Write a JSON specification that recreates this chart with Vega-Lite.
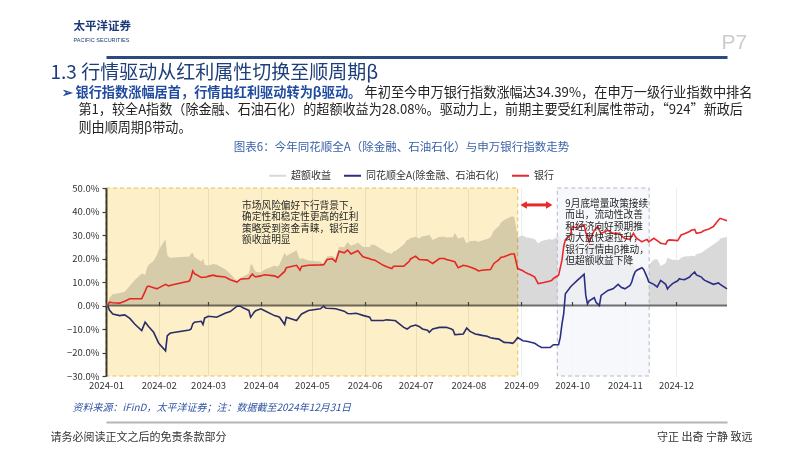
{
  "$schema": "https://vega.github.io/schema/vega-lite/v6.json",
  "width": 621,
  "height": 188,
  "autosize": {"type": "none"},
  "padding": {"left": 106, "top": 188, "right": 75, "bottom": 75},
  "background": "white",
  "config": {
    "font": "Noto Sans CJK SC",
    "view": {"stroke": null},
    "axis": {"domain": false, "ticks": false, "labels": false, "grid": false, "titleFontWeight": "normal", "titleFont": "Noto Sans CJK SC", "labelFont": "Noto Sans CJK SC", "titleColor": "#222222"},
    "text": {"font": "Noto Sans CJK SC"}
  },
  "datasets": {
    "idx": [
      {"date": "2024-01-02", "bank": 0, "allA": 0, "excess": 0},
      {"date": "2024-01-03", "bank": 1.4, "allA": -1.9, "excess": 3.3},
      {"date": "2024-01-05", "bank": 1.2, "allA": -3.6, "excess": 4.8},
      {"date": "2024-01-09", "bank": 1.0, "allA": -4.3, "excess": 5.3},
      {"date": "2024-01-12", "bank": 1.8, "allA": -4.0, "excess": 5.8},
      {"date": "2024-01-15", "bank": 2.9, "allA": -5.5, "excess": 8.4},
      {"date": "2024-01-18", "bank": 2.9, "allA": -8.0, "excess": 10.9},
      {"date": "2024-01-22", "bank": 2.9, "allA": -10.7, "excess": 13.6},
      {"date": "2024-01-24", "bank": 6.0, "allA": -7.1, "excess": 13.1},
      {"date": "2024-01-25", "bank": 7.9, "allA": -8.0, "excess": 15.9},
      {"date": "2024-01-26", "bank": 8.3, "allA": -8.9, "excess": 17.2},
      {"date": "2024-01-29", "bank": 7.6, "allA": -11.4, "excess": 19.0},
      {"date": "2024-01-31", "bank": 7.1, "allA": -14.5, "excess": 21.6},
      {"date": "2024-02-01", "bank": 7.5, "allA": -16.1, "excess": 23.6},
      {"date": "2024-02-05", "bank": 9.0, "allA": -19.3, "excess": 28.3},
      {"date": "2024-02-06", "bank": 8.6, "allA": -12.9, "excess": 21.5},
      {"date": "2024-02-07", "bank": 8.3, "allA": -12.2, "excess": 20.5},
      {"date": "2024-02-08", "bank": 8.6, "allA": -11.7, "excess": 20.3},
      {"date": "2024-02-19", "bank": 10.4, "allA": -10.4, "excess": 20.8},
      {"date": "2024-02-20", "bank": 12.0, "allA": -10.0, "excess": 22.0},
      {"date": "2024-02-21", "bank": 14.7, "allA": -7.8, "excess": 22.5},
      {"date": "2024-02-22", "bank": 13.5, "allA": -7.1, "excess": 20.6},
      {"date": "2024-02-26", "bank": 11.9, "allA": -6.7, "excess": 18.6},
      {"date": "2024-02-27", "bank": 12.0, "allA": -8.1, "excess": 20.1},
      {"date": "2024-02-28", "bank": 12.0, "allA": -5.3, "excess": 17.3},
      {"date": "2024-02-29", "bank": 12.1, "allA": -5.0, "excess": 17.1},
      {"date": "2024-03-01", "bank": 12.4, "allA": -4.6, "excess": 17.0},
      {"date": "2024-03-04", "bank": 12.9, "allA": -4.8, "excess": 17.7},
      {"date": "2024-03-06", "bank": 12.5, "allA": -5.0, "excess": 17.5},
      {"date": "2024-03-11", "bank": 12.1, "allA": -3.3, "excess": 15.4},
      {"date": "2024-03-14", "bank": 11.0, "allA": -2.6, "excess": 13.6},
      {"date": "2024-03-18", "bank": 10.0, "allA": -0.3, "excess": 10.3},
      {"date": "2024-03-20", "bank": 11.2, "allA": -0.3, "excess": 11.5},
      {"date": "2024-03-21", "bank": 11.3, "allA": -0.8, "excess": 12.1},
      {"date": "2024-03-25", "bank": 11.5, "allA": -2.1, "excess": 13.6},
      {"date": "2024-03-26", "bank": 12.5, "allA": -5.0, "excess": 17.5},
      {"date": "2024-03-27", "bank": 13.3, "allA": -4.0, "excess": 17.3},
      {"date": "2024-03-28", "bank": 12.6, "allA": -2.9, "excess": 15.5},
      {"date": "2024-03-29", "bank": 12.2, "allA": -2.2, "excess": 14.4},
      {"date": "2024-04-01", "bank": 12.6, "allA": -1.4, "excess": 14.0},
      {"date": "2024-04-03", "bank": 13.1, "allA": -2.1, "excess": 15.2},
      {"date": "2024-04-09", "bank": 12.6, "allA": -4.3, "excess": 16.9},
      {"date": "2024-04-11", "bank": 11.9, "allA": -4.7, "excess": 16.6},
      {"date": "2024-04-12", "bank": 12.5, "allA": -5.0, "excess": 17.5},
      {"date": "2024-04-15", "bank": 14.5, "allA": -8.1, "excess": 22.6},
      {"date": "2024-04-16", "bank": 16.1, "allA": -5.0, "excess": 21.1},
      {"date": "2024-04-22", "bank": 17.1, "allA": -6.4, "excess": 23.5},
      {"date": "2024-04-24", "bank": 15.0, "allA": -4.5, "excess": 19.5},
      {"date": "2024-04-25", "bank": 16.6, "allA": -3.6, "excess": 20.2},
      {"date": "2024-04-29", "bank": 17.1, "allA": -2.1, "excess": 19.2},
      {"date": "2024-05-06", "bank": 17.3, "allA": -1.4, "excess": 18.7},
      {"date": "2024-05-08", "bank": 17.4, "allA": -0.3, "excess": 17.7},
      {"date": "2024-05-09", "bank": 18.5, "allA": -1.1, "excess": 19.6},
      {"date": "2024-05-10", "bank": 19.6, "allA": -1.2, "excess": 20.8},
      {"date": "2024-05-13", "bank": 19.9, "allA": -1.3, "excess": 21.2},
      {"date": "2024-05-15", "bank": 18.6, "allA": -1.4, "excess": 20.0},
      {"date": "2024-05-17", "bank": 23.1, "allA": -1.8, "excess": 24.9},
      {"date": "2024-05-20", "bank": 22.4, "allA": -2.4, "excess": 24.8},
      {"date": "2024-05-22", "bank": 23.6, "allA": -3.4, "excess": 27.0},
      {"date": "2024-05-24", "bank": 21.9, "allA": -3.5, "excess": 25.4},
      {"date": "2024-05-27", "bank": 23.0, "allA": -3.3, "excess": 26.3},
      {"date": "2024-05-28", "bank": 23.3, "allA": -3.5, "excess": 26.8},
      {"date": "2024-05-31", "bank": 20.7, "allA": -4.2, "excess": 24.9},
      {"date": "2024-06-04", "bank": 19.9, "allA": -5.0, "excess": 24.9},
      {"date": "2024-06-05", "bank": 19.6, "allA": -6.4, "excess": 26.0},
      {"date": "2024-06-07", "bank": 19.3, "allA": -6.4, "excess": 25.7},
      {"date": "2024-06-12", "bank": 17.1, "allA": -6.4, "excess": 23.5},
      {"date": "2024-06-14", "bank": 16.5, "allA": -6.1, "excess": 22.6},
      {"date": "2024-06-17", "bank": 15.7, "allA": -6.3, "excess": 22.0},
      {"date": "2024-06-18", "bank": 16.7, "allA": -6.4, "excess": 23.1},
      {"date": "2024-06-19", "bank": 16.7, "allA": -6.4, "excess": 23.1},
      {"date": "2024-06-24", "bank": 16.7, "allA": -9.3, "excess": 26.0},
      {"date": "2024-06-26", "bank": 18.0, "allA": -10.0, "excess": 28.0},
      {"date": "2024-06-27", "bank": 18.6, "allA": -9.5, "excess": 28.1},
      {"date": "2024-06-28", "bank": 19.8, "allA": -8.9, "excess": 28.7},
      {"date": "2024-07-01", "bank": 21.0, "allA": -8.3, "excess": 29.3},
      {"date": "2024-07-03", "bank": 19.6, "allA": -8.9, "excess": 28.5},
      {"date": "2024-07-05", "bank": 19.5, "allA": -10.0, "excess": 29.5},
      {"date": "2024-07-08", "bank": 19.3, "allA": -10.5, "excess": 29.8},
      {"date": "2024-07-09", "bank": 18.8, "allA": -11.4, "excess": 30.2},
      {"date": "2024-07-11", "bank": 17.9, "allA": -10.0, "excess": 27.9},
      {"date": "2024-07-15", "bank": 20.0, "allA": -9.3, "excess": 29.3},
      {"date": "2024-07-18", "bank": 20.0, "allA": -9.3, "excess": 29.3},
      {"date": "2024-07-19", "bank": 19.6, "allA": -9.3, "excess": 28.9},
      {"date": "2024-07-22", "bank": 19.0, "allA": -10.0, "excess": 29.0},
      {"date": "2024-07-23", "bank": 18.8, "allA": -10.4, "excess": 29.2},
      {"date": "2024-07-24", "bank": 18.6, "allA": -12.4, "excess": 31.0},
      {"date": "2024-07-26", "bank": 16.1, "allA": -12.3, "excess": 28.4},
      {"date": "2024-07-29", "bank": 17.1, "allA": -12.1, "excess": 29.2},
      {"date": "2024-07-31", "bank": 16.8, "allA": -9.6, "excess": 26.4},
      {"date": "2024-08-02", "bank": 16.4, "allA": -11.0, "excess": 27.4},
      {"date": "2024-08-05", "bank": 15.5, "allA": -12.1, "excess": 27.6},
      {"date": "2024-08-07", "bank": 14.7, "allA": -12.4, "excess": 27.1},
      {"date": "2024-08-09", "bank": 15.0, "allA": -12.7, "excess": 27.7},
      {"date": "2024-08-12", "bank": 15.2, "allA": -13.1, "excess": 28.3},
      {"date": "2024-08-14", "bank": 15.3, "allA": -13.7, "excess": 29.0},
      {"date": "2024-08-16", "bank": 17.9, "allA": -14.0, "excess": 31.9},
      {"date": "2024-08-19", "bank": 19.5, "allA": -14.3, "excess": 33.8},
      {"date": "2024-08-20", "bank": 20.4, "allA": -14.8, "excess": 35.2},
      {"date": "2024-08-22", "bank": 20.7, "allA": -15.7, "excess": 36.4},
      {"date": "2024-08-26", "bank": 21.9, "allA": -15.9, "excess": 37.8},
      {"date": "2024-08-27", "bank": 21.9, "allA": -16.1, "excess": 38.0},
      {"date": "2024-08-28", "bank": 21.9, "allA": -15.5, "excess": 37.4},
      {"date": "2024-08-30", "bank": 15.7, "allA": -13.6, "excess": 29.3},
      {"date": "2024-09-02", "bank": 14.8, "allA": -15.0, "excess": 29.8},
      {"date": "2024-09-03", "bank": 14.3, "allA": -15.1, "excess": 29.4},
      {"date": "2024-09-05", "bank": 13.5, "allA": -15.3, "excess": 28.8},
      {"date": "2024-09-06", "bank": 13.3, "allA": -15.5, "excess": 28.8},
      {"date": "2024-09-09", "bank": 12.1, "allA": -16.1, "excess": 28.2},
      {"date": "2024-09-11", "bank": 9.3, "allA": -17.1, "excess": 26.4},
      {"date": "2024-09-13", "bank": 9.6, "allA": -17.9, "excess": 27.5},
      {"date": "2024-09-18", "bank": 10.4, "allA": -17.9, "excess": 28.3},
      {"date": "2024-09-19", "bank": 10.7, "allA": -17.3, "excess": 28.0},
      {"date": "2024-09-20", "bank": 11.5, "allA": -16.7, "excess": 28.2},
      {"date": "2024-09-23", "bank": 12.9, "allA": -16.7, "excess": 29.6},
      {"date": "2024-09-24", "bank": 16.0, "allA": -13.6, "excess": 29.6},
      {"date": "2024-09-25", "bank": 19.3, "allA": -7.9, "excess": 27.2},
      {"date": "2024-09-26", "bank": 25.0, "allA": -3.6, "excess": 28.6},
      {"date": "2024-09-27", "bank": 28.0, "allA": 5.0, "excess": 23.0},
      {"date": "2024-09-30", "bank": 30.0, "allA": 7.9, "excess": 22.1},
      {"date": "2024-10-01", "bank": 33.6, "allA": 8.6, "excess": 25.0},
      {"date": "2024-10-04", "bank": 32.9, "allA": 10.7, "excess": 22.2},
      {"date": "2024-10-06", "bank": 33.6, "allA": 12.0, "excess": 21.6},
      {"date": "2024-10-08", "bank": 34.3, "allA": 13.3, "excess": 21.0},
      {"date": "2024-10-09", "bank": 31.0, "allA": 4.3, "excess": 26.7},
      {"date": "2024-10-10", "bank": 29.3, "allA": 0.7, "excess": 28.6},
      {"date": "2024-10-11", "bank": 27.1, "allA": 2.0, "excess": 25.1},
      {"date": "2024-10-14", "bank": 32.0, "allA": 3.3, "excess": 28.7},
      {"date": "2024-10-15", "bank": 32.8, "allA": 1.4, "excess": 31.4},
      {"date": "2024-10-16", "bank": 33.6, "allA": 0.7, "excess": 32.9},
      {"date": "2024-10-17", "bank": 32.0, "allA": 0.0, "excess": 32.0},
      {"date": "2024-10-18", "bank": 30.7, "allA": 4.3, "excess": 26.4},
      {"date": "2024-10-22", "bank": 32.0, "allA": 6.4, "excess": 25.6},
      {"date": "2024-10-25", "bank": 30.7, "allA": 7.1, "excess": 23.6},
      {"date": "2024-10-28", "bank": 30.7, "allA": 9.0, "excess": 21.7},
      {"date": "2024-10-30", "bank": 29.7, "allA": 7.6, "excess": 22.1},
      {"date": "2024-10-31", "bank": 29.0, "allA": 7.4, "excess": 21.6},
      {"date": "2024-11-01", "bank": 28.5, "allA": 7.1, "excess": 21.4},
      {"date": "2024-11-04", "bank": 28.1, "allA": 8.5, "excess": 19.6},
      {"date": "2024-11-05", "bank": 29.5, "allA": 10.0, "excess": 19.5},
      {"date": "2024-11-06", "bank": 30.7, "allA": 12.5, "excess": 18.2},
      {"date": "2024-11-07", "bank": 29.5, "allA": 14.3, "excess": 15.2},
      {"date": "2024-11-08", "bank": 28.6, "allA": 15.0, "excess": 13.6},
      {"date": "2024-11-11", "bank": 27.1, "allA": 16.1, "excess": 11.0},
      {"date": "2024-11-12", "bank": 27.5, "allA": 15.3, "excess": 12.2},
      {"date": "2024-11-14", "bank": 28.1, "allA": 12.1, "excess": 16.0},
      {"date": "2024-11-15", "bank": 27.1, "allA": 10.0, "excess": 17.1},
      {"date": "2024-11-18", "bank": 28.6, "allA": 9.0, "excess": 19.6},
      {"date": "2024-11-20", "bank": 27.6, "allA": 7.9, "excess": 19.7},
      {"date": "2024-11-22", "bank": 26.5, "allA": 10.7, "excess": 16.8},
      {"date": "2024-11-25", "bank": 26.1, "allA": 9.0, "excess": 18.1},
      {"date": "2024-11-26", "bank": 27.5, "allA": 7.1, "excess": 20.4},
      {"date": "2024-11-27", "bank": 27.9, "allA": 8.0, "excess": 20.0},
      {"date": "2024-11-29", "bank": 27.8, "allA": 9.3, "excess": 19.5},
      {"date": "2024-12-02", "bank": 27.6, "allA": 10.5, "excess": 19.3},
      {"date": "2024-12-03", "bank": 28.8, "allA": 11.4, "excess": 19.6},
      {"date": "2024-12-04", "bank": 30.0, "allA": 11.2, "excess": 20.3},
      {"date": "2024-12-06", "bank": 30.5, "allA": 11.0, "excess": 20.8},
      {"date": "2024-12-09", "bank": 31.5, "allA": 12.1, "excess": 21.0},
      {"date": "2024-12-10", "bank": 32.0, "allA": 13.0, "excess": 21.2},
      {"date": "2024-12-12", "bank": 32.4, "allA": 14.3, "excess": 21.0},
      {"date": "2024-12-13", "bank": 30.7, "allA": 13.0, "excess": 21.8},
      {"date": "2024-12-16", "bank": 31.2, "allA": 12.1, "excess": 22.5},
      {"date": "2024-12-17", "bank": 31.7, "allA": 11.2, "excess": 23.0},
      {"date": "2024-12-18", "bank": 32.0, "allA": 10.7, "excess": 23.5},
      {"date": "2024-12-20", "bank": 32.4, "allA": 10.0, "excess": 24.5},
      {"date": "2024-12-23", "bank": 33.6, "allA": 9.0, "excess": 26.0},
      {"date": "2024-12-26", "bank": 36.4, "allA": 9.6, "excess": 27.5},
      {"date": "2024-12-27", "bank": 37.1, "allA": 9.0, "excess": 28.5},
      {"date": "2024-12-31", "bank": 36.1, "allA": 7.1, "excess": 29.3}
    ],
    "yellowPeriod": [{"start": "2024-01-01T00:00:00Z", "end": "2024-08-30T00:00:00Z"}],
    "bluePeriod": [{"start": "2024-09-22T06:00:00Z", "end": "2024-11-15T06:00:00Z"}],
    "arrow": [{"start": "2024-09-02T12:00:00Z", "end": "2024-09-17T12:00:00Z", "level": 42.8}],
    "notes": [
      {"date": "2024-03-21T00:00:00Z", "value": 44.5, "text": "市场风险偏好下行背景下，\n确定性和稳定性更高的红利\n策略受到资金青睐，银行超\n额收益明显"},
      {"date": "2024-09-27T00:00:00Z", "value": 45.3, "text": "9月底增量政策接续\n而出，流动性改善\n和经济向好预期推\n动大盘快速拉升，\n银行行情由β推动，\n但超额收益下降"}
    ],
    "zero": [{"level": 0}]
  },
  "layer": [
    {
      "data": {"name": "idx"},
      "mark": {"type": "area", "color": "#d9d9d9", "opacity": 1},
      "encoding": {
        "x": {
          "field": "date", "type": "temporal",
          "scale": {"type": "utc", "domain": [{"year": 2024, "month": 1, "date": 1, "utc": true}, {"year": 2024, "month": 12, "date": 31, "utc": true}]},
          "axis": {
            "orient": "bottom",
            "values": [{"year": 2024, "month": 1, "date": 1, "utc": true}, {"year": 2024, "month": 2, "date": 1, "utc": true}, {"year": 2024, "month": 3, "date": 1, "utc": true}, {"year": 2024, "month": 4, "date": 1, "utc": true}, {"year": 2024, "month": 5, "date": 1, "utc": true}, {"year": 2024, "month": 6, "date": 1, "utc": true}, {"year": 2024, "month": 7, "date": 1, "utc": true}, {"year": 2024, "month": 8, "date": 1, "utc": true}, {"year": 2024, "month": 9, "date": 1, "utc": true}, {"year": 2024, "month": 10, "date": 1, "utc": true}, {"year": 2024, "month": 11, "date": 1, "utc": true}, {"year": 2024, "month": 12, "date": 1, "utc": true}],
            "format": "%Y-%m",
            "labels": true, "labelFontSize": 9.5, "labelColor": "#333333", "labelPadding": 4, "labelFlush": false,
            "grid": true, "gridColor": "#e8e8e8", "gridWidth": 0.8,
            "title": "资料来源：iFinD，太平洋证券；注：数据截至2024年12月31日",
            "titleFontSize": 10, "titleFontStyle": "italic", "titleColor": "#2f55a4",
            "titleAlign": "left", "titleAnchor": "start", "titleBaseline": "middle", "titleX": -34, "titleY": 31
          }
        },
        "y": {
          "field": "excess", "type": "quantitative",
          "scale": {"domain": [-30, 50], "nice": false},
          "axis": {
            "orient": "left",
            "values": [-30, -20, -10, 0, 10, 20, 30, 40, 50],
            "labels": true, "labelExpr": "format(datum.value, '.1f') + '%'", "labelFontSize": 9.5, "labelColor": "#333333", "labelPadding": 3,
            "domain": true, "domainColor": "#3f3f3f", "domainWidth": 2,
            "ticks": true, "tickSize": 4, "tickColor": "#3f3f3f", "tickWidth": 1.2,
            "title": "请务必阅读正文之后的免责条款部分",
            "titleAngle": 0, "titleAlign": "left", "titleBaseline": "middle", "titleX": -56, "titleY": 249, "titleFontSize": 11, "titleColor": "#333333"
          }
        }
      }
    },
    {
      "data": {"name": "bluePeriod"},
      "mark": {"type": "rect", "fill": "#f4f5fa", "fillOpacity": 0.75, "stroke": "#b3b7cc", "strokeDash": [4, 3], "strokeWidth": 1},
      "encoding": {
        "x": {
          "field": "start", "type": "temporal",
          "axis": {
            "orient": "bottom", "offset": 46,
            "domain": true, "domainColor": "#b5b5b5", "domainWidth": 2,
            "title": "守正 出奇 宁静 致远",
            "titleFontSize": 11, "titleColor": "#333333", "titleAlign": "right", "titleAnchor": "start", "titleBaseline": "middle", "titleX": 646, "titleY": 15
          }
        },
        "x2": {"field": "end"}
      }
    },
    {
      "data": {"name": "zero"},
      "mark": {"type": "rule", "color": "#6e6e6e", "strokeWidth": 2},
      "encoding": {"y": {"field": "level", "type": "quantitative", "axis": null}}
    },
    {
      "data": {"name": "idx"},
      "transform": [{"fold": ["allA"], "as": ["series", "value"]}],
      "mark": {"type": "line", "strokeWidth": 1.6},
      "encoding": {
        "x": {
          "field": "date", "type": "temporal",
          "axis": {
            "orient": "bottom", "offset": -70.5,
            "values": [{"year": 2024, "month": 2, "date": 1, "utc": true}, {"year": 2024, "month": 3, "date": 1, "utc": true}, {"year": 2024, "month": 4, "date": 1, "utc": true}, {"year": 2024, "month": 5, "date": 1, "utc": true}, {"year": 2024, "month": 6, "date": 1, "utc": true}, {"year": 2024, "month": 7, "date": 1, "utc": true}, {"year": 2024, "month": 8, "date": 1, "utc": true}, {"year": 2024, "month": 9, "date": 1, "utc": true}, {"year": 2024, "month": 10, "date": 1, "utc": true}, {"year": 2024, "month": 11, "date": 1, "utc": true}, {"year": 2024, "month": 12, "date": 1, "utc": true}],
            "ticks": true, "tickSize": -4, "tickColor": "#444444", "tickWidth": 1.2, "zindex": 1,
            "title": "图表6：今年同花顺全A（除金融、石油石化）与申万银行指数走势",
            "titleFontSize": 11.5, "titleColor": "#3a62a8", "titleAlign": "center", "titleAnchor": "start", "titleBaseline": "middle", "titleX": 295, "titleY": -158.5
          }
        },
        "y": {
          "field": "value", "type": "quantitative",
          "axis": {
            "orient": "right",
            "title": "P7", "titleAngle": 0, "titleAlign": "left", "titleBaseline": "middle", "titleX": -6, "titleY": -146,
            "titleFontSize": 21, "titleColor": "#cccccc", "titleFont": "Liberation Sans"
          }
        },
        "color": {
          "field": "series", "type": "nominal",
          "scale": {"domain": ["excess", "allA", "bank"], "range": ["#d9d9d9", "#2b2f84", "#e8282b"]},
          "legend": {
            "orient": "none", "legendX": 162, "legendY": -22, "direction": "horizontal", "title": null,
            "symbolType": "stroke", "symbolSize": 289, "symbolStrokeWidth": 2,
            "labelFontSize": 10, "labelColor": "#333333", "labelOffset": 4, "columnPadding": 9,
            "labelExpr": "datum.label === 'excess' ? '超额收益' : datum.label === 'allA' ? '同花顺全A(除金融、石油石化)' : '银行'"
          }
        }
      }
    },
    {
      "data": {"name": "idx"},
      "transform": [{"fold": ["bank"], "as": ["series", "value"]}],
      "mark": {"type": "line", "strokeWidth": 1.6},
      "encoding": {
        "x": {
          "field": "date", "type": "temporal",
          "axis": {
            "orient": "top", "offset": 131,
            "domain": true, "domainColor": "#2b4a80", "domainWidth": 3,
            "title": "1.3 行情驱动从红利属性切换至顺周期β",
            "titleFontSize": 19, "titleColor": "#1d3e7a", "titleAlign": "left", "titleAnchor": "start", "titleBaseline": "middle", "titleX": -56, "titleY": 15
          }
        },
        "y": {
          "field": "value", "type": "quantitative",
          "axis": {
            "orient": "left",
            "title": "太平洋证券", "titleAngle": 0, "titleAlign": "left", "titleBaseline": "middle", "titleX": -33, "titleY": -162,
            "titleFontSize": 11.5, "titleFontWeight": "bold", "titleColor": "#1c3a7a"
          }
        },
        "color": {"field": "series", "type": "nominal", "legend": null}
      }
    },
    {
      "data": {"name": "yellowPeriod"},
      "mark": {"type": "rect", "fill": "#fdf0c8", "blend": "multiply", "stroke": "#e7bf55", "strokeDash": [4, 3], "strokeWidth": 1},
      "encoding": {
        "x": {
          "field": "start", "type": "temporal",
          "axis": {
            "orient": "top",
            "title": "➢ 银行指数涨幅居首，行情由红利驱动转为β驱动。",
            "titleFontSize": 13.2, "titleFontWeight": "bold", "titleColor": "#1f4aa0", "titleAlign": "left", "titleAnchor": "start", "titleBaseline": "middle", "titleX": -45, "titleY": -96
          }
        },
        "x2": {"field": "end"}
      }
    },
    {
      "data": {"name": "notes"},
      "mark": {"type": "text", "align": "left", "baseline": "top", "fontSize": 9.7, "lineBreak": "\n", "lineHeight": 11.4, "color": "#262626"},
      "encoding": {
        "x": {
          "field": "date", "type": "temporal",
          "axis": {
            "orient": "top",
            "title": "年初至今申万银行指数涨幅达34.39%，在申万一级行业指数中排名",
            "titleFontSize": 13.2, "titleColor": "#222222", "titleAlign": "right", "titleAnchor": "start", "titleBaseline": "middle", "titleX": 646, "titleY": -96
          }
        },
        "y": {
          "field": "value", "type": "quantitative",
          "axis": {
            "orient": "left",
            "title": "PACIFIC SECURITIES", "titleAngle": 0, "titleAlign": "left", "titleBaseline": "middle", "titleX": -33, "titleY": -149,
            "titleFontSize": 5.5, "titleColor": "#1c3a7a", "titleFont": "Liberation Sans"
          }
        },
        "text": {"field": "text", "type": "nominal"}
      }
    },
    {
      "data": {"name": "arrow"},
      "mark": {"type": "rule", "color": "#e8282b", "strokeWidth": 3},
      "encoding": {
        "x": {
          "field": "start", "type": "temporal",
          "axis": {
            "orient": "top",
            "title": ["第1，较全A指数（除金融、石油石化）的超额收益为28.08%。驱动力上，前期主要受红利属性带动，“924”新政后", "则由顺周期β带动。"],
            "titleFontSize": 13.1, "titleLineHeight": 18.5, "titleColor": "#222222", "titleAlign": "left", "titleAnchor": "start", "titleBaseline": "top", "titleX": -28, "titleY": -85
          }
        },
        "x2": {"field": "end"},
        "y": {"field": "level", "type": "quantitative", "axis": null}
      }
    },
    {
      "data": {"name": "arrow"},
      "mark": {"type": "point", "shape": "triangle-left", "filled": true, "size": 55, "color": "#e8282b", "opacity": 1},
      "encoding": {
        "x": {"field": "start", "type": "temporal", "axis": null},
        "y": {"field": "level", "type": "quantitative", "axis": null}
      }
    },
    {
      "data": {"name": "arrow"},
      "mark": {"type": "point", "shape": "triangle-right", "filled": true, "size": 55, "color": "#e8282b", "opacity": 1},
      "encoding": {
        "x": {"field": "end", "type": "temporal", "axis": null},
        "y": {"field": "level", "type": "quantitative", "axis": null}
      }
    }
  ],
  "resolve": {"axis": {"x": "independent", "y": "independent"}}
}
